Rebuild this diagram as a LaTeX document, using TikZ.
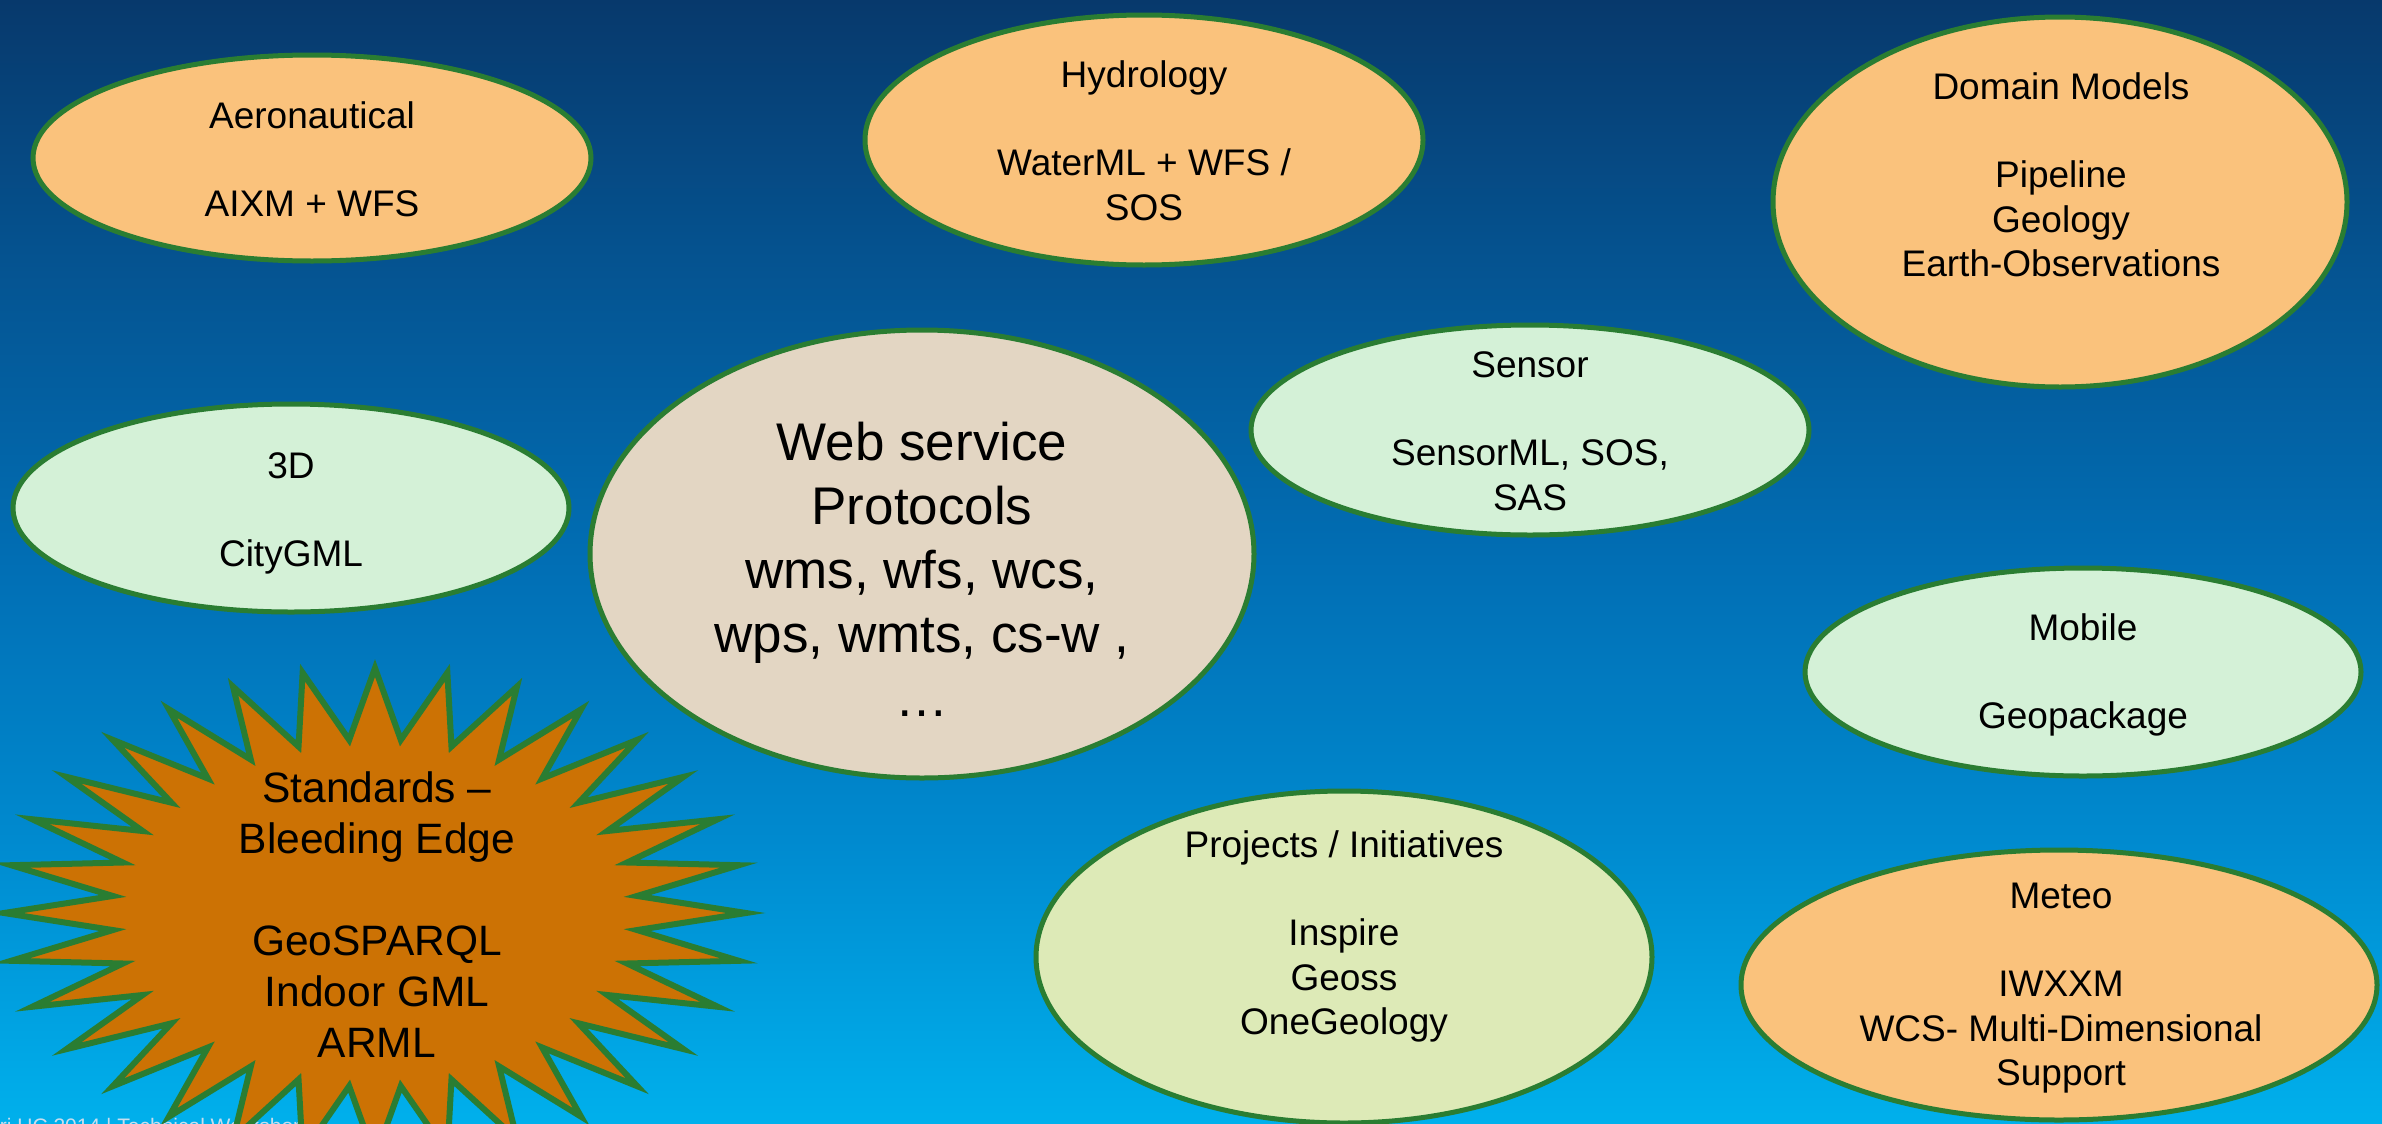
\documentclass[tikz,border=0pt]{standalone}
\usepackage{fontspec}
\setmainfont{Liberation Sans}
\usetikzlibrary{shapes.geometric}
\definecolor{bgA}{RGB}{7,57,108}
\definecolor{bgB}{RGB}{5,82,143}
\definecolor{bgC}{RGB}{1,110,180}
\definecolor{bgD}{RGB}{0,138,207}
\definecolor{bgE}{RGB}{0,176,236}
\definecolor{rim}{RGB}{42,125,50}
\definecolor{orangefill}{RGB}{250,194,124}
\definecolor{greenfill}{RGB}{212,241,215}
\definecolor{limefill}{RGB}{221,234,183}
\definecolor{webfill}{RGB}{227,214,195}
\definecolor{starfill}{RGB}{204,114,4}
\definecolor{footgray}{RGB}{200,222,238}
\pgfdeclareverticalshading{bgshade}{100bp}{color(0bp)=(bgE); color(25bp)=(bgE); color(37.65bp)=(bgD); color(50.1bp)=(bgC); color(63.9bp)=(bgB); color(75bp)=(bgA); color(100bp)=(bgA)}
\newcommand{\mylines}[1]{\begin{tabular}[t]{@{}c@{}}#1\end{tabular}}
\begin{document}
\begin{tikzpicture}[x=0.5pt,y=-0.5pt,
  bubble/.style={ellipse,draw=rim,line width=2.5pt,inner sep=0pt},
  smalltext/.style={anchor=base,inner sep=0pt,text=black,font=\fontsize{18.5}{22.2}\selectfont},
  bigtext/.style={anchor=base,inner sep=0pt,text=black,font=\fontsize{26.5}{32}\selectfont},
  startext/.style={anchor=base,inner sep=0pt,text=black,font=\fontsize{21.25}{25.5}\selectfont},
  burst/.style={draw=rim,fill=starfill,line width=3pt,line join=miter,miter limit=20}]
\useasboundingbox (0,0) rectangle (2382,1124);
\clip (0,0) rectangle (2382,1124);
\shade[shading=bgshade] (0,0) rectangle (2382,1124);

% footer
\node[anchor=base west,inner sep=0pt,text=footgray,font=\fontsize{10.5}{12}\selectfont] (footer) at (-25,1133) {Esri UC 2014 | Technical Workshop};

% ellipses
\node[bubble,fill=orangefill,minimum width=279pt,minimum height=103pt] (aero) at (312,158) {};
\node[smalltext] (aerot) at (312,128) {\mylines{Aeronautical\\ \\AIXM + WFS}};

\node[bubble,fill=orangefill,minimum width=279pt,minimum height=125pt] (hydro) at (1144,140) {};
\node[smalltext] (hydrot) at (1144,87) {\mylines{Hydrology\\ \\WaterML + WFS /\\SOS}};

\node[bubble,fill=orangefill,minimum width=287pt,minimum height=185pt] (domain) at (2060,202) {};
\node[smalltext] (domaint) at (2061,99) {\mylines{Domain Models\\ \\Pipeline\\Geology\\Earth-Observations}};

\node[bubble,fill=greenfill,minimum width=279pt,minimum height=105pt] (sensor) at (1530,430) {};
\node[smalltext] (sensort) at (1530,377) {\mylines{Sensor\\ \\SensorML, SOS,\\SAS}};

\node[bubble,fill=greenfill,minimum width=278pt,minimum height=104pt] (threed) at (291,508) {};
\node[smalltext] (threedt) at (291,478) {\mylines{3D\\ \\CityGML}};

\node[bubble,fill=greenfill,minimum width=278pt,minimum height=104pt] (mobile) at (2083,672) {};
\node[smalltext] (mobilet) at (2083,640) {\mylines{Mobile\\ \\Geopackage}};

\node[bubble,fill=limefill,minimum width=308pt,minimum height=166pt] (proj) at (1344,957) {};
\node[smalltext] (projt) at (1344,857) {\mylines{Projects / Initiatives\\ \\Inspire\\Geoss\\OneGeology}};

\node[bubble,fill=orangefill,minimum width=318pt,minimum height=135pt] (meteo) at (2059,985) {};
\node[smalltext] (meteot) at (2061,908) {\mylines{Meteo\\ \\IWXXM\\WCS- Multi-Dimensional\\Support}};

\node[bubble,fill=webfill,minimum width=332pt,minimum height=224pt] (web) at (922,554) {};
\node[bigtext] (webt) at (922,460) {\mylines{Web service\\Protocols\\wms, wfs, wcs,\\wps, wmts, cs-w ,\\…}};

% starburst
\draw[burst] plot[samples at={0,...,63}, variable=\k]
  ({375+371*ifthenelse(mod(\k,2)==0,1,0.71)*cos(90+5.625*\k)},
   {913-245*ifthenelse(mod(\k,2)==0,1,0.71)*sin(90+5.625*\k)}) -- cycle;
\node[startext] (stdt) at (377,802) {\mylines{Standards –\\Bleeding Edge\\ \\GeoSPARQL\\Indoor GML\\ARML}};
\end{tikzpicture}
\end{document}
